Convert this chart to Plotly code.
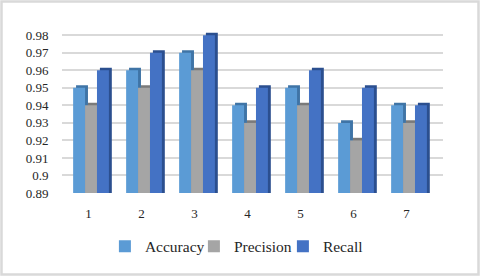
import plotly.graph_objects as go

categories = [1, 2, 3, 4, 5, 6, 7]
category_labels = ["1", "2", "3", "4", "5", "6", "7"]
accuracy = [0.95, 0.96, 0.97, 0.94, 0.95, 0.93, 0.94]
precision = [0.94, 0.95, 0.96, 0.93, 0.94, 0.92, 0.93]
recall = [0.96, 0.97, 0.98, 0.95, 0.96, 0.95, 0.94]
y_ticks = [0.89, 0.90, 0.91, 0.92, 0.93, 0.94, 0.95, 0.96, 0.97, 0.98]
y_tick_labels = ["0.89", "0.9", "0.91", "0.92", "0.93", "0.94", "0.95", "0.96", "0.97", "0.98"]

BASE = 0.89
W = 0.225
DX = 0.055
DY = 0.0015

series = [
    ("Accuracy", accuracy, "#5B9BD5", "#3F74A6", -0.29),
    ("Precision", precision, "#A5A5A5", "#7A7A7A", -0.065),
    ("Recall", recall, "#4472C4", "#2B4F8F", 0.16),
]

fig = go.Figure()
for name, vals, color, dark, off in series:
    # side/top face (3D depth)
    fig.add_trace(go.Bar(
        x=categories, y=[v - BASE + DY for v in vals], base=BASE,
        offset=off + DX, width=W, marker=dict(color=dark, line=dict(width=0)),
        showlegend=False, hoverinfo="skip",
    ))
    # front face
    fig.add_trace(go.Bar(
        x=categories, y=[v - BASE for v in vals], base=BASE,
        offset=off, width=W, name=name,
        marker=dict(color=color, line=dict(width=0)),
    ))

serif = "Liberation Serif"
font = dict(family=serif, size=13, color="#262626")

L, R, T, B = 62, 37, 30, 83
PW, PH = 480 - L - R, 276 - T - B

fig.update_layout(
    width=480, height=276,
    margin=dict(l=L, r=R, t=T, b=B),
    paper_bgcolor="white", plot_bgcolor="white",
    barmode="overlay",
    font=font,
    showlegend=True,
    legend=dict(orientation="h", x=0.463, xanchor="center", y=-0.33, yanchor="middle",
                font=dict(family=serif, size=15.5, color="#262626"),
                traceorder="normal", itemwidth=30, entrywidth=44),
    xaxis=dict(range=[0.5, 0.5 + PW / 53.0], tickvals=categories, ticktext=category_labels,
               showgrid=False, zeroline=False, showline=False,
               ticks="outside", ticklen=8, tickcolor="rgba(0,0,0,0)"),
    yaxis=dict(range=[0.89, 0.983], tickvals=y_ticks, ticktext=y_tick_labels,
               showgrid=True, gridcolor="#d9d9d9", gridwidth=1.5,
               zeroline=False, showline=False,
               ticks="outside", ticklen=10, tickcolor="rgba(0,0,0,0)"),
    shapes=[dict(type="rect", xref="paper", yref="paper",
                 x0=(-L + 1.5) / PW, x1=1 + (R - 1.5) / PW,
                 y0=(-B + 1.5) / PH, y1=1 + (T - 1.5) / PH,
                 line=dict(color="#d9d9d9", width=2.5), layer="above")],
)

fig.write_html("out.html", config={"displayModeBar": False},
               post_script="document.body.style.margin='0';document.body.style.padding='0';")
